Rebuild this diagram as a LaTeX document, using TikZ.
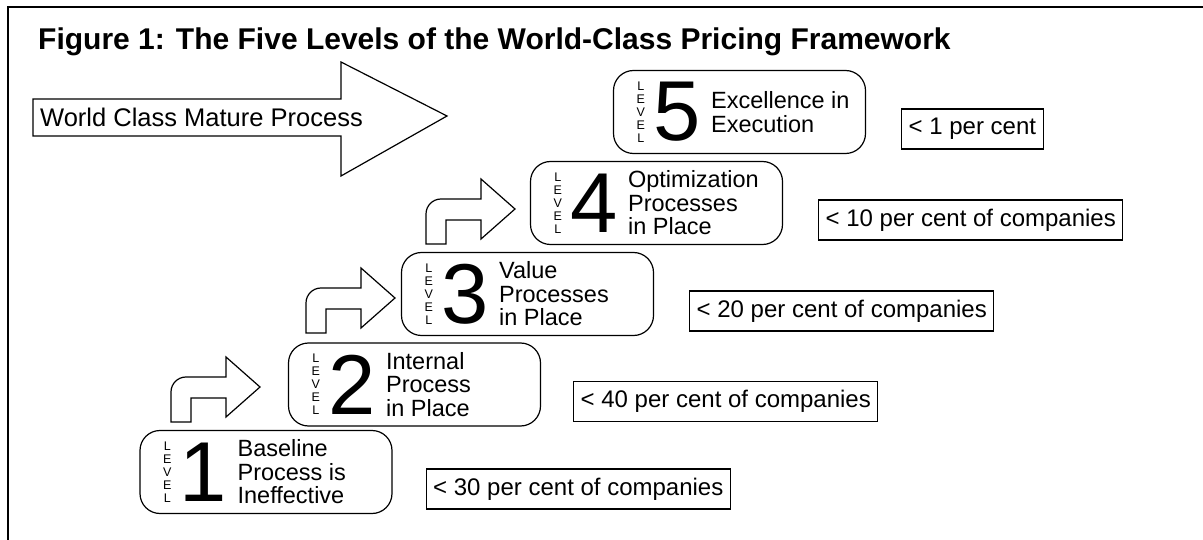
\documentclass[tikz,border=0pt]{standalone}
\usepackage{fontspec}
\setmainfont{Liberation Sans}
\usetikzlibrary{positioning}

\tikzset{
  levelbox/.style={draw, line width=1.2pt, rounded corners=20pt, minimum width=252pt, minimum height=83pt},
  lvlword/.style={align=center, inner sep=0pt, font=\fontsize{12.5}{13}\selectfont},
  lvldigit/.style={inner sep=0pt, font=\fontsize{85}{85}\selectfont},
  lvltext/.style={anchor=west, align=left, inner sep=0pt, font=\fontsize{23.5}{23.5}\selectfont},
  pctbox/.style={draw, line width=1.2pt, inner xsep=7pt, inner ysep=0pt, minimum height=40pt, font=\fontsize{24}{24}\selectfont},
  bentarrow/.style={line width=1.2pt, line join=miter}
}

\begin{document}
\begin{tikzpicture}[x=1pt, y=-1pt]
  \useasboundingbox (0,0) rectangle (1203,540);
  \draw[line width=1.6pt] (8,540) -- (8,7) -- (1203,7);
  \node[anchor=base west, inner sep=0pt, font=\bfseries\fontsize{30}{30}\selectfont] (title) at (38,50) {Figure 1: The Five Levels of the World-Class Pricing Framework};

  % big arrow
  \draw[line width=1.2pt] (33,99) -- (341,99) -- (341,62) -- (447,116) -- (341,176) -- (341,136) -- (33,136) -- cycle;
  \node[anchor=west, inner sep=0pt, font=\fontsize{25.5}{26}\selectfont] (mature) at (40,117) {World Class Mature Process};

  % the five levels
  \foreach \n/\px/\py/\txt in {1/266/472/{Baseline\\Process is\\Ineffective},
      2/414.5/384.5/{Internal\\Process\\in Place},
      3/527.5/294/{Value\\Processes\\in Place},
      4/656.5/203/{Optimization\\Processes\\in Place},
      5/739.5/112/{Excellence in\\Execution}}
  {
    \node[levelbox] (l\n) at (\px,\py) {};
    \node[lvlword] (w\n) at ([xshift=28pt]l\n.west) {L\\E\\V\\E\\L};
    \node[lvldigit] (d\n) at ([xshift=64pt]l\n.west) {\n};
    \node[lvltext] (t\n) at ([xshift=98pt]l\n.west) {\txt};
  }

  % share of companies
  \node[pctbox, right=33pt of l1.east, yshift=-17pt] (p1) {< 30 per cent of companies};
  \node[pctbox, right=32pt of l2.east, yshift=-17pt] (p2) {< 40 per cent of companies};
  \node[pctbox, right=35pt of l3.east, yshift=-17pt] (p3) {< 20 per cent of companies};
  \node[pctbox, right=35pt of l4.east, yshift=-17pt] (p4) {< 10 per cent of companies};
  \node[pctbox, right=35pt of l5.east, yshift=-17pt] (p5) {< 1 per cent};

  % step arrows
  \foreach \ax/\ay in {171/422, 306/333, 426/244}
    \draw[bentarrow, shift={(\ax,\ay)}] (0,0) -- (0,-30) arc[start angle=180, end angle=90, radius=15pt]
      -- (55,-45) -- (55,-65) -- (89,-35) -- (55,-5) -- (55,-24) -- (20,-24) -- (20,0) -- cycle;
\end{tikzpicture}
\end{document}
